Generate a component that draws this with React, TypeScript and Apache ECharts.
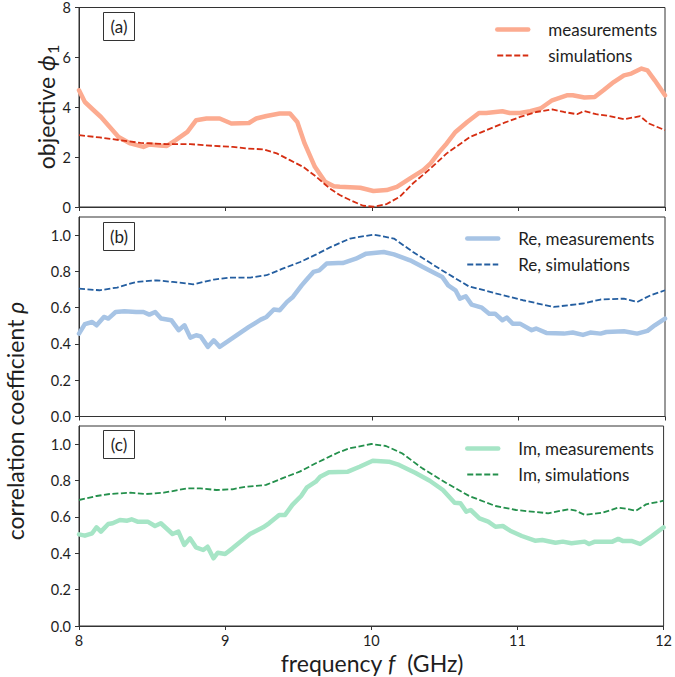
import React, { useEffect, useRef } from "react";
import * as echarts from "echarts";

// ---------- data ----------
const xTicks = [8, 9, 10, 11, 12];
const phiTicks = [0, 2, 4, 6, 8];
const rhoTicks = [0, 0.2, 0.4, 0.6, 0.8, 1.0];

// panel (a): objective phi_1
const aMeasF = [8.0, 8.04, 8.1, 8.15, 8.21, 8.27, 8.35, 8.44, 8.48, 8.55, 8.6, 8.66, 8.74, 8.8, 8.87, 8.96, 9.04, 9.16, 9.21, 9.28, 9.37, 9.44, 9.49, 9.54, 9.61, 9.68, 9.74, 9.78, 9.92, 10.01, 10.1, 10.17, 10.26, 10.35, 10.4, 10.46, 10.51, 10.57, 10.65, 10.73, 10.78, 10.89, 10.94, 11.01, 11.08, 11.15, 11.23, 11.33, 11.37, 11.45, 11.52, 11.58, 11.65, 11.72, 11.77, 11.84, 11.88, 11.93, 12.0];
const aMeasV = [4.68, 4.21, 3.88, 3.61, 3.21, 2.81, 2.55, 2.41, 2.51, 2.47, 2.45, 2.68, 3.01, 3.48, 3.55, 3.55, 3.35, 3.37, 3.55, 3.65, 3.75, 3.75, 3.41, 2.55, 1.61, 1.01, 0.83, 0.81, 0.77, 0.64, 0.68, 0.81, 1.15, 1.48, 1.75, 2.21, 2.55, 3.01, 3.41, 3.77, 3.77, 3.84, 3.77, 3.77, 3.84, 3.95, 4.28, 4.48, 4.48, 4.39, 4.41, 4.68, 5.01, 5.28, 5.35, 5.55, 5.48, 5.08, 4.48];
const aSimF = [8.0, 8.14, 8.28, 8.42, 8.6, 8.76, 8.92, 9.05, 9.14, 9.26, 9.35, 9.44, 9.53, 9.62, 9.71, 9.78, 9.85, 9.94, 10.01, 10.1, 10.19, 10.28, 10.4, 10.51, 10.67, 10.78, 10.9, 11.01, 11.12, 11.23, 11.31, 11.4, 11.45, 11.53, 11.62, 11.72, 11.83, 11.89, 12.0];
const aSimV = [2.88, 2.79, 2.68, 2.57, 2.52, 2.52, 2.45, 2.41, 2.35, 2.31, 2.15, 1.88, 1.61, 1.21, 0.75, 0.48, 0.28, 0.05, 0.01, 0.12, 0.41, 0.95, 1.55, 2.15, 2.81, 3.08, 3.37, 3.61, 3.81, 3.91, 3.81, 3.72, 3.85, 3.72, 3.65, 3.52, 3.64, 3.35, 3.08];

// panel (b): real part of rho
const bMeasF = [8.0, 8.04, 8.09, 8.12, 8.17, 8.2, 8.25, 8.31, 8.39, 8.44, 8.48, 8.52, 8.56, 8.63, 8.68, 8.72, 8.76, 8.8, 8.83, 8.88, 8.92, 8.96, 9.05, 9.16, 9.24, 9.28, 9.33, 9.37, 9.42, 9.46, 9.52, 9.55, 9.6, 9.64, 9.69, 9.77, 9.8, 9.89, 9.96, 10.08, 10.15, 10.26, 10.37, 10.48, 10.52, 10.57, 10.6, 10.64, 10.68, 10.75, 10.8, 10.84, 10.89, 10.92, 10.96, 11.01, 11.09, 11.12, 11.19, 11.31, 11.37, 11.44, 11.49, 11.56, 11.6, 11.72, 11.81, 11.88, 11.93, 12.0];
const bMeasV = [0.457, 0.509, 0.521, 0.503, 0.549, 0.54, 0.576, 0.58, 0.576, 0.576, 0.562, 0.576, 0.54, 0.531, 0.476, 0.503, 0.435, 0.448, 0.442, 0.384, 0.42, 0.384, 0.433, 0.494, 0.534, 0.549, 0.59, 0.586, 0.632, 0.659, 0.723, 0.751, 0.797, 0.806, 0.843, 0.846, 0.846, 0.87, 0.898, 0.907, 0.894, 0.861, 0.815, 0.769, 0.723, 0.696, 0.65, 0.663, 0.617, 0.6, 0.567, 0.567, 0.531, 0.545, 0.512, 0.512, 0.476, 0.485, 0.461, 0.457, 0.463, 0.45, 0.463, 0.457, 0.466, 0.47, 0.457, 0.472, 0.503, 0.54];
const bSimF = [8.0, 8.14, 8.26, 8.39, 8.53, 8.64, 8.78, 8.92, 9.03, 9.17, 9.28, 9.39, 9.51, 9.62, 9.72, 9.85, 10.01, 10.15, 10.28, 10.46, 10.66, 10.85, 11.03, 11.24, 11.44, 11.56, 11.72, 11.81, 11.9, 12.0];
const bSimV = [0.705, 0.696, 0.711, 0.742, 0.751, 0.742, 0.729, 0.755, 0.766, 0.766, 0.779, 0.815, 0.852, 0.894, 0.935, 0.981, 1.003, 0.981, 0.907, 0.815, 0.718, 0.678, 0.641, 0.604, 0.623, 0.645, 0.65, 0.631, 0.668, 0.696];

// panel (c): imaginary part of rho
const cMeasF = [8.0, 8.04, 8.09, 8.12, 8.15, 8.2, 8.23, 8.28, 8.33, 8.36, 8.4, 8.47, 8.52, 8.56, 8.64, 8.68, 8.72, 8.76, 8.8, 8.85, 8.88, 8.92, 8.95, 9.0, 9.05, 9.17, 9.26, 9.3, 9.37, 9.41, 9.46, 9.52, 9.56, 9.62, 9.65, 9.71, 9.84, 9.92, 10.01, 10.12, 10.19, 10.3, 10.4, 10.49, 10.57, 10.61, 10.65, 10.68, 10.74, 10.8, 10.85, 10.9, 10.95, 11.03, 11.12, 11.17, 11.26, 11.31, 11.37, 11.46, 11.49, 11.53, 11.65, 11.69, 11.72, 11.78, 11.84, 11.92, 12.0];
const cMeasV = [0.504, 0.497, 0.51, 0.543, 0.519, 0.561, 0.565, 0.583, 0.579, 0.587, 0.574, 0.574, 0.55, 0.565, 0.506, 0.519, 0.446, 0.482, 0.433, 0.418, 0.436, 0.372, 0.403, 0.396, 0.427, 0.506, 0.543, 0.565, 0.611, 0.611, 0.666, 0.715, 0.763, 0.794, 0.821, 0.846, 0.849, 0.876, 0.909, 0.904, 0.886, 0.843, 0.799, 0.748, 0.678, 0.675, 0.629, 0.638, 0.592, 0.574, 0.546, 0.55, 0.524, 0.495, 0.469, 0.473, 0.458, 0.464, 0.455, 0.464, 0.451, 0.464, 0.464, 0.479, 0.468, 0.468, 0.451, 0.495, 0.543];
const cSimF = [8.0, 8.12, 8.21, 8.35, 8.46, 8.58, 8.74, 8.83, 8.94, 9.05, 9.14, 9.28, 9.39, 9.51, 9.62, 9.77, 9.85, 10.0, 10.1, 10.21, 10.35, 10.51, 10.67, 10.85, 10.99, 11.21, 11.35, 11.4, 11.46, 11.58, 11.69, 11.75, 11.81, 11.88, 12.0];
const cSimV = [0.693, 0.715, 0.726, 0.733, 0.726, 0.733, 0.757, 0.757, 0.748, 0.752, 0.766, 0.776, 0.812, 0.849, 0.895, 0.953, 0.977, 1.001, 0.99, 0.95, 0.867, 0.788, 0.715, 0.66, 0.638, 0.62, 0.642, 0.634, 0.611, 0.623, 0.651, 0.644, 0.634, 0.669, 0.689];

const panelLabels = ["(a)", "(b)", "(c)"];
const seriesNames = [
  ["measurements", "simulations"],
  ["Re, measurements", "Re, simulations"],
  ["Im, measurements", "Im, simulations"],
];

// ---------- styling ----------
const FONT = "Lato, 'DejaVu Sans', sans-serif";
const AXIS = "#333333";
const TXT = "#1e1e1e";
const measColors = ["#fcab90", "#a7c4e5", "#a6e5c6"];
const simColors = ["#d62e12", "#245ea0", "#24904c"];
const MEAS_W = 4.5;
const SIM_W = 1.8;

const grids = [
  { left: 79, right: 10, top: 7, height: 200 },
  { left: 79, right: 10, top: 217, height: 199.5 },
  { left: 79, right: 10, top: 426, height: 200 },
];
const legendTops = [21, 230, 440];
const legendLefts = [495, 465, 465];
const boxTops = [12, 222, 430];

const zip = (xs: number[], ys: number[]) => xs.map((x, i) => [x, ys[i]]);

export default function App() {
  const ref = useRef<HTMLDivElement>(null);
  useEffect(() => {
    document.body.style.margin = "0";
    if (!ref.current) return;
    const chart = echarts.init(ref.current, null, { renderer: "svg" });

    const measData = [zip(aMeasF, aMeasV), zip(bMeasF, bMeasV), zip(cMeasF, cMeasV)];
    const simData = [zip(aSimF, aSimV), zip(bSimF, bSimV), zip(cSimF, cSimV)];

    const xAxes = grids.map((_, i) => ({
      type: "value",
      gridIndex: i,
      min: 8,
      max: 12,
      interval: 1,
      axisLine: { show: true, lineStyle: { color: AXIS, width: 1 } },
      axisTick: { show: true, length: 4, lineStyle: { color: AXIS }, customValues: xTicks },
      axisLabel: {
        show: i === 2,
        customValues: xTicks,
        color: TXT,
        fontFamily: FONT,
        fontSize: 14.5,
        lineHeight: 15,
        margin: 7,
      },
      splitLine: { show: false },
    }));

    const yAxes = grids.map((_, i) => {
      const ticks = i === 0 ? phiTicks : rhoTicks;
      return {
        type: "value",
        gridIndex: i,
        min: 0,
        max: i === 0 ? 8 : 1.1,
        interval: i === 0 ? 2 : 0.2,
        axisLine: { show: true, lineStyle: { color: AXIS, width: 1 } },
        axisTick: { show: true, length: 4, lineStyle: { color: AXIS }, customValues: ticks },
        axisLabel: {
          customValues: ticks,
          color: TXT,
          fontFamily: FONT,
          fontSize: 14.5,
          margin: 8,
          formatter: (v: number) => (i === 0 ? String(v) : v.toFixed(1)),
        },
        splitLine: { show: false },
      };
    });

    const series: any[] = [];
    for (let i = 0; i < 3; i++) {
      series.push({
        type: "line",
        name: seriesNames[i][0],
        xAxisIndex: i,
        yAxisIndex: i,
        data: measData[i],
        symbol: "none",
        lineStyle: { color: measColors[i], width: MEAS_W, join: "round", cap: "round" },
        itemStyle: { color: measColors[i] },
        z: 2,
      });
      series.push({
        type: "line",
        name: seriesNames[i][1],
        xAxisIndex: i,
        yAxisIndex: i,
        data: simData[i],
        symbol: "none",
        lineStyle: { color: simColors[i], width: SIM_W, type: [6, 2.5] },
        itemStyle: { color: simColors[i] },
        z: 3,
      });
    }

    const legends = grids.map((_, i) => ({
      data: [
        { name: seriesNames[i][0], lineStyle: { width: MEAS_W, color: measColors[i] } },
        { name: seriesNames[i][1], lineStyle: { width: SIM_W, color: simColors[i], type: [6, 2.5] } },
      ],
      orient: "vertical",
      left: legendLefts[i],
      top: legendTops[i],
      padding: 0,
      itemWidth: 31,
      itemHeight: 14,
      itemGap: 9,
      selectedMode: false,
      itemStyle: { opacity: 0 },
      textStyle: {
        fontFamily: FONT,
        fontSize: 17,
        color: TXT,
        padding: [0, 0, 0, 15],
      },
    }));

    const graphics: any[] = [];
    for (let i = 0; i < 3; i++) {
      graphics.push({
        type: "rect",
        shape: { x: 103.5, y: boxTops[i] + 0.5, width: 31, height: 28 },
        style: { fill: "#fff", stroke: "#333", lineWidth: 1 },
        z: 10,
      });
      graphics.push({
        type: "text",
        x: 119,
        y: boxTops[i] + 14.5,
        style: {
          text: panelLabels[i],
          fontFamily: FONT,
          fontSize: 17,
          fill: TXT,
          align: "center",
          verticalAlign: "middle",
        },
        z: 11,
      });
    }
    // axis titles
    const rich = {
      t: { fontFamily: FONT, fontSize: 23, lineHeight: 23, fill: TXT, color: TXT },
      i: { fontFamily: FONT, fontSize: 23, lineHeight: 23, fontStyle: "italic", fill: TXT, color: TXT },
      s: { fontFamily: FONT, fontSize: 16, fill: TXT, color: TXT, padding: [13, 0, 0, 1] },
    };
    graphics.push({
      type: "text",
      x: 46,
      y: 107,
      rotation: Math.PI / 2,
      style: { text: "{t|objective }{i|ϕ}{s|1}", align: "center", verticalAlign: "middle", rich },
    });
    graphics.push({
      type: "text",
      x: 15,
      y: 421,
      rotation: Math.PI / 2,
      style: { text: "{t|correlation coefficient }{i|ρ}", align: "center", verticalAlign: "middle", rich },
    });
    graphics.push({
      type: "text",
      x: 372,
      y: 663,
      style: { text: "{t|frequency }{i|f}{t|  (GHz)}", align: "center", verticalAlign: "middle", rich },
    });

    chart.setOption({
      animation: false,
      backgroundColor: "#ffffff",
      grid: grids.map((g) => ({ ...g, show: true, borderColor: AXIS, borderWidth: 1, backgroundColor: "transparent" })),
      xAxis: xAxes,
      yAxis: yAxes,
      legend: legends,
      series,
      graphic: graphics,
    });
    return () => chart.dispose();
  }, []);
  return <div ref={ref} style={{ width: 675, height: 677 }} />;
}
